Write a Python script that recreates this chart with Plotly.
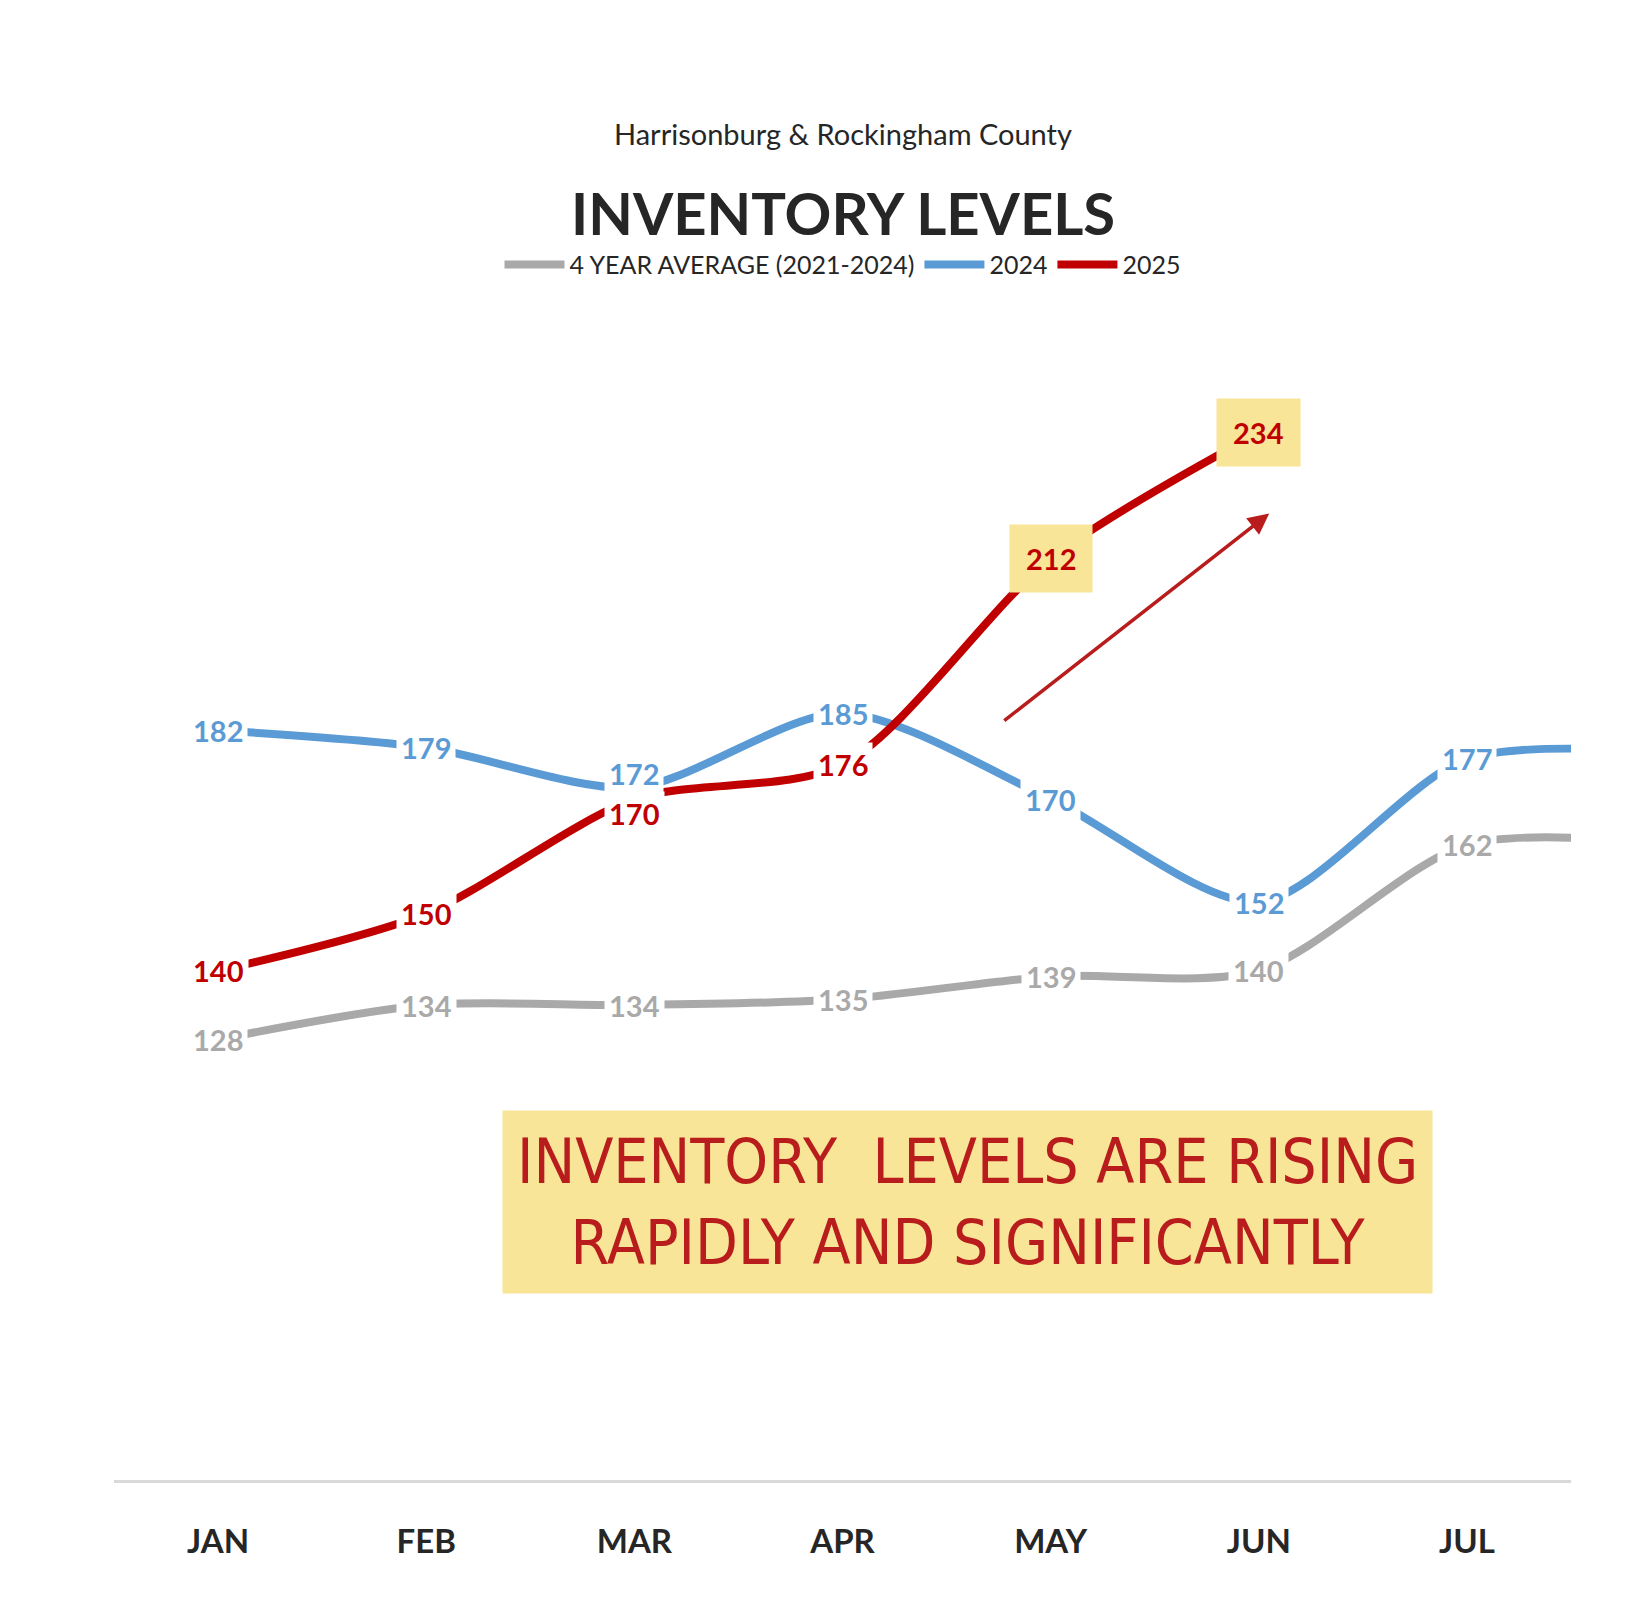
import plotly.graph_objects as go

months = ["JAN", "FEB", "MAR", "APR", "MAY", "JUN", "JUL"]
avg_4yr = [128, 134, 134, 135, 139, 140, 162]
y2024 = [182, 179, 172, 185, 170, 152, 177]
y2025 = [140, 150, 170, 176, 212, 234]
# values just beyond the visible range (next month, clipped)
avg_next = 162
y2024_next = 178

GRAY, BLUE, RED = "#a9a9a9", "#5b9bd5", "#c00000"
FONT = "Lato"

xs = list(range(len(months)))
fig = go.Figure()
fig.add_trace(go.Scatter(x=xs + [7], y=avg_4yr + [avg_next], mode="lines", name="4 YEAR AVERAGE (2021-2024)",
                         line=dict(color=GRAY, width=8, shape="spline", smoothing=0.8)))
fig.add_trace(go.Scatter(x=xs + [7], y=y2024 + [y2024_next], mode="lines", name="2024",
                         line=dict(color=BLUE, width=8, shape="spline", smoothing=0.8)))
fig.add_trace(go.Scatter(x=xs[:len(y2025)], y=y2025, mode="lines", name="2025",
                         line=dict(color=RED, width=8, shape="spline", smoothing=0.8)))

ann = []
def lab(x, y, c, yellow=False, ys=0):
    ann.append(dict(x=x, y=y, text=f"<b>{y}</b>", showarrow=False, yshift=ys,
                    font=dict(family=FONT, size=29, color=c),
                    bgcolor="#f8e597" if yellow else "white",
                    borderpad=16 if yellow else 4))
for i, v in enumerate(avg_4yr): lab(i, v, GRAY)
for i, v in enumerate(y2024): lab(i, v, BLUE, ys=14 if i == 2 else 0)
for i, v in enumerate(y2025): lab(i, v, RED, yellow=(i >= 4), ys=-14 if i == 2 else 0)

ann.append(dict(x=5.05, y=219.9, ax=3.77, ay=183.5, xref="x", yref="y", axref="x", ayref="y",
                showarrow=True, arrowhead=2, arrowsize=1.2, arrowwidth=3.5, arrowcolor="#b81c1c", text=""))
ann.append(dict(x=3.6, y=99.5, text="INVENTORY  LEVELS ARE RISING<br>RAPIDLY AND SIGNIFICANTLY",
                showarrow=False, font=dict(family="DejaVu Sans Condensed", size=62, color="#b81c1c"),
                bgcolor="#f8e597", borderpad=14))
ann.append(dict(x=0.5, y=1.142, xref="paper", yref="paper", text="Harrisonburg &amp; Rockingham County",
                showarrow=False, font=dict(family=FONT, size=29, color="#262626")))
ann.append(dict(x=0.5, y=1.09, xref="paper", yref="paper", text="<b>INVENTORY LEVELS</b>",
                showarrow=False, font=dict(family=FONT, size=58, color="#262626")))

fig.update_layout(
    width=1650, height=1624, plot_bgcolor="white", paper_bgcolor="white",
    margin=dict(l=106, r=87, t=276, b=152),
    showlegend=True,
    legend=dict(orientation="h", x=0.5, xanchor="center", y=1.016, yanchor="middle",
                font=dict(family=FONT, size=25, color="#262626"), itemwidth=60),
    xaxis=dict(range=[-0.5, 6.5], tickvals=xs, ticktext=[f"<b>{m}</b>" for m in months],
               showgrid=False, zeroline=False, showline=True, linecolor="#d9d9d9", linewidth=3,
               tickfont=dict(family=FONT, size=33, color="#262626"), ticks="", ticklabelstandoff=30),
    yaxis=dict(range=[51, 260], visible=False, showgrid=False),
    annotations=ann,
)
fig.write_html("out.html")
